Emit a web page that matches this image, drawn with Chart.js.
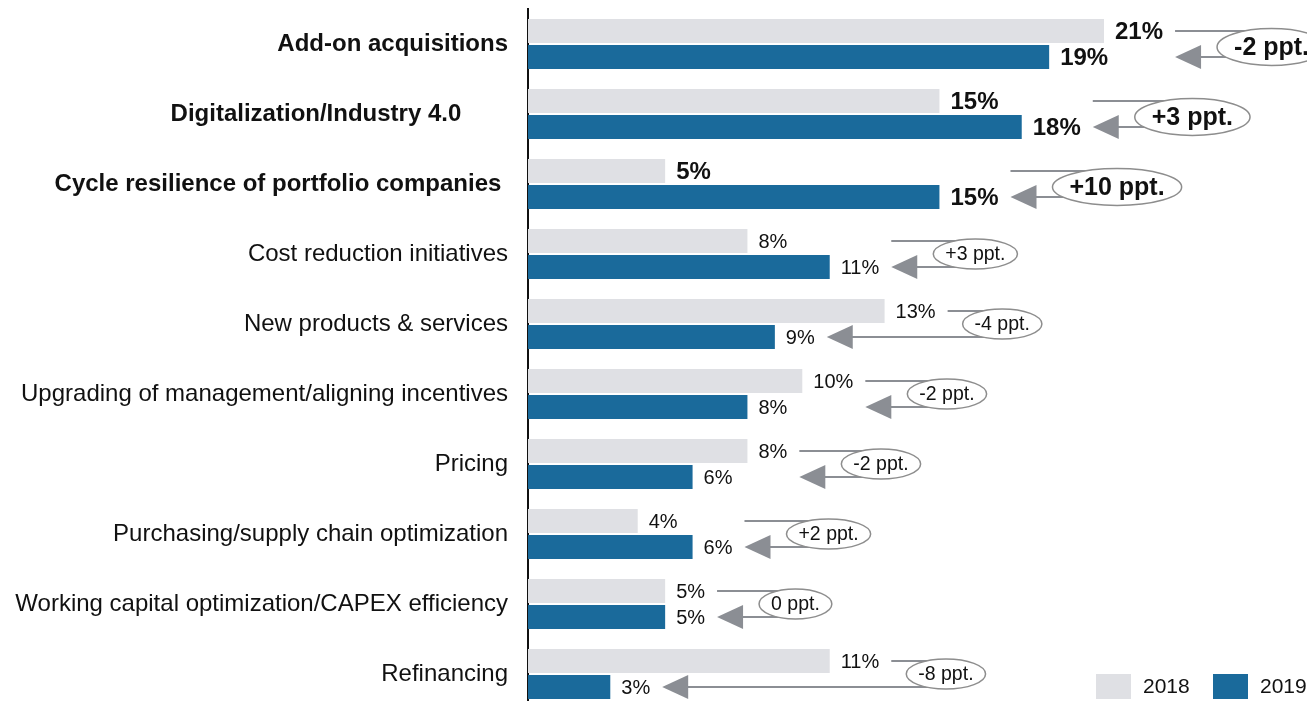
<!DOCTYPE html>
<html>
<head>
<meta charset="utf-8">
<script src="https://cdn.jsdelivr.net/npm/chart.js@4"></script>
<style>
  html, body { margin: 0; padding: 0; background: #fff; overflow: hidden; }
  #wrap { position: relative; width: 1307px; height: 712px; }
</style>
</head>
<body>
<div id="wrap"><canvas id="chart"></canvas></div>
<script>
'use strict';

// values (trailing spaces are in the original labels)
var categories = [
    'Add-on acquisitions',
    'Digitalization/Industry 4.0       ',
    'Cycle resilience of portfolio companies ',
    'Cost reduction initiatives',
    'New products & services',
    'Upgrading of management/aligning incentives',
    'Pricing',
    'Purchasing/supply chain optimization',
    'Working capital optimization/CAPEX efficiency',
    'Refinancing'
];
var values2018 = [21, 15, 5, 8, 13, 10, 8, 4, 5, 11];
var values2019 = [19, 18, 15, 11, 9, 8, 6, 6, 5, 3];
var highlighted = [true, true, true, false, false, false, false, false, false, false];
var seriesNames = ['2018', '2019'];

var FONT = '"Liberation Sans", Arial, sans-serif';
var GREY_LINE = '#8b8e94';
var colors = { y2018: '#dfe0e4', y2019: '#1a6a9b' };

function font(bold, size) {
    return (bold ? 'bold ' : '') + size + 'px ' + FONT;
}

function deltaText(i) {
    var d = values2019[i] - values2018[i];
    return (d > 0 ? '+' : '') + d + ' ppt.';
}

// value labels, connector line, arrow and delta ellipse
var annotations = {
    id: 'annotations',
    afterDatasetsDraw: function(chart) {
        var ctx = chart.ctx;
        var m18 = chart.getDatasetMeta(0), m19 = chart.getDatasetMeta(1);
        var yScale = chart.scales.y;
        ctx.save();
        categories.forEach(function(cat, i) {
            var b18 = m18.data[i], b19 = m19.data[i];
            var bold = highlighted[i];
            ctx.font = font(bold, bold ? 24 : 20);
            ctx.fillStyle = '#111';
            ctx.textBaseline = 'middle';
            ctx.textAlign = 'left';
            var t18 = values2018[i] + '%', t19 = values2019[i] + '%';
            var x18 = b18.x + 11, x19 = b19.x + 11;
            ctx.fillText(t18, x18, b18.y + 1);
            ctx.fillText(t19, x19, b19.y + 1);
            var end18 = x18 + ctx.measureText(t18).width;
            var end19 = x19 + ctx.measureText(t19).width;

            var lineStart = end18 + 12;
            var tip = end19 + 12;
            var drop = values2018[i] - values2019[i];
            var ellLeft;
            if (drop > 2) {
                ellLeft = lineStart + 15;
            } else {
                tip = Math.max(tip, lineStart);
                lineStart = tip;
                ellLeft = tip + 42;
            }

            var label = deltaText(i);
            ctx.font = font(bold, bold ? 25 : 19.5);
            var tw = ctx.measureText(label).width;
            var ew = tw + (bold ? 34 : 24);
            var eh = bold ? 37 : 30;
            var ecx = ellLeft + ew / 2;
            var ecy = yScale.getPixelForValue(i) + (bold ? 3 : 0);

            ctx.strokeStyle = GREY_LINE;
            ctx.lineWidth = 2;
            ctx.beginPath();
            ctx.moveTo(lineStart, b18.y);
            ctx.lineTo(ecx, b18.y);
            ctx.moveTo(tip + 24, b19.y);
            ctx.lineTo(ecx, b19.y);
            ctx.stroke();

            ctx.fillStyle = GREY_LINE;
            ctx.beginPath();
            ctx.moveTo(tip, b19.y);
            ctx.lineTo(tip + 26, b19.y - 12);
            ctx.lineTo(tip + 26, b19.y + 12);
            ctx.closePath();
            ctx.fill();

            ctx.beginPath();
            ctx.ellipse(ecx, ecy, ew / 2, eh / 2, 0, 0, Math.PI * 2);
            ctx.fillStyle = '#fff';
            ctx.fill();
            ctx.strokeStyle = '#8d8d8d';
            ctx.lineWidth = 1.5;
            ctx.stroke();

            ctx.fillStyle = '#111';
            ctx.textAlign = 'center';
            ctx.fillText(label, ecx, ecy + 1);
        });

        // legend, bottom right
        var ly = 686;
        var lx = 1096;
        ctx.font = font(false, 21);
        ctx.textAlign = 'left';
        ctx.textBaseline = 'middle';
        [colors.y2018, colors.y2019].forEach(function(c, k) {
            ctx.fillStyle = c;
            ctx.fillRect(lx, ly - 12, 35, 25);
            ctx.fillStyle = '#111';
            ctx.fillText(seriesNames[k], lx + 47, ly + 1);
            lx += 117;
        });
        ctx.restore();
    }
};

new Chart(document.getElementById('chart'), {
    type: 'bar',
    data: {
        labels: categories,
        datasets: [
            { label: seriesNames[0], data: values2018, backgroundColor: colors.y2018 },
            { label: seriesNames[1], data: values2019, backgroundColor: colors.y2019 }
        ]
    },
    options: {
        indexAxis: 'y',
        responsive: true,
        maintainAspectRatio: false,
        animation: false,
        categoryPercentage: 0.743,
        barPercentage: 0.923,
        layout: { padding: { top: 9, bottom: 3, right: 0 } },
        plugins: { legend: { display: false }, tooltip: { enabled: false } },
        scales: {
            x: { display: false, min: 0, max: 28.4 },
            y: {
                afterFit: function(scale) {
                    scale.width = 528;
                    scale.paddingTop = 0;
                    scale.paddingBottom = 0;
                },
                grid: { display: false, drawTicks: false },
                border: { display: true, color: '#111', width: 2 },
                ticks: {
                    padding: 20,
                    color: '#111',
                    font: function(c) {
                        var b = highlighted[c.index];
                        return { family: FONT, size: 24, weight: b ? 'bold' : 'normal' };
                    }
                }
            }
        }
    },
    plugins: [annotations]
});
</script>
</body>
</html>
